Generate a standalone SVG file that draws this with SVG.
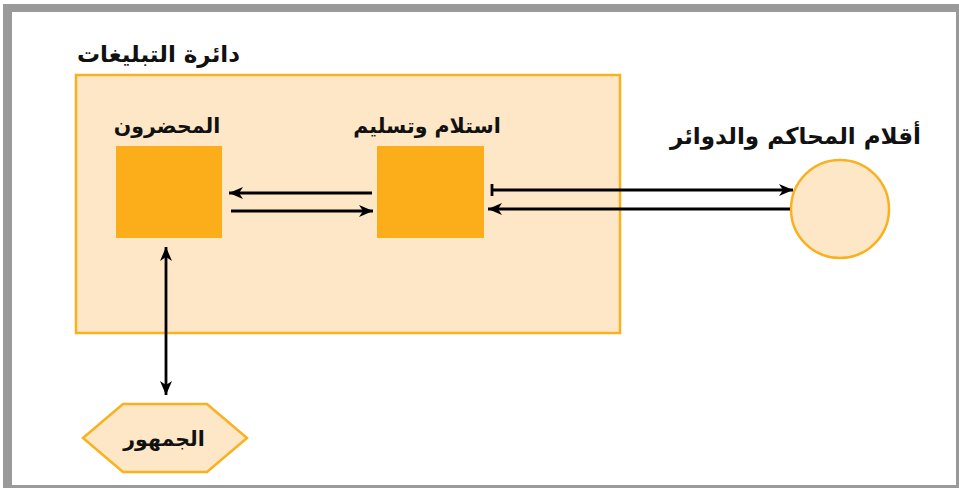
<svg xmlns="http://www.w3.org/2000/svg" width="959" height="488" viewBox="0 0 959 488">
<style>
.t{font-family:"DejaVu Sans","Noto Sans",sans-serif;font-weight:bold;font-size:23px;fill:#111;direction:rtl}
.s{font-size:20.5px}
.sq{fill:#FBAE1A}
.ln{stroke:#000;stroke-width:2.8;fill:none}
.lt{fill:#FEE7C6;stroke:#F9B11F;stroke-width:2.5}
</style>
<defs>
<marker id="ah" viewBox="0 0 14 12" refX="14" refY="6" markerWidth="14" markerHeight="12" orient="auto-start-reverse" markerUnits="userSpaceOnUse">
<path d="M0,0 L14,6 L0,12 L4,6 z" fill="#000"/>
</marker>
</defs>
<rect x="0" y="0" width="959" height="488" fill="#fff"/>
<rect x="3" y="4" width="956" height="484" fill="#9a9a9a"/>
<rect x="12" y="12" width="944" height="473" fill="#fff"/>
<g id="dept">
<rect class="lt" x="76" y="75" width="544" height="258"/>
<text class="t" x="240" y="62" text-anchor="start">دائرة التبليغات</text>
</g>
<g id="bailiffs">
<rect class="sq" x="116" y="146" width="106" height="92"/>
<text class="t s" x="167" y="133" text-anchor="middle">المحضرون</text>
</g>
<g id="receive">
<rect class="sq" x="377" y="146" width="107" height="92"/>
<text class="t s" x="427" y="133" text-anchor="middle">استلام وتسليم</text>
</g>
<g id="courts">
<circle class="lt" cx="840" cy="209" r="49"/>
<text class="t" x="921" y="144" text-anchor="start">أقلام المحاكم والدوائر</text>
</g>
<g id="public">
<polygon class="lt" points="83,438 123,404 207,404 247,438 207,472 123,472"/>
<text class="t s" x="164" y="446" text-anchor="middle">الجمهور</text>
</g>
<g id="connectors">
<line class="ln" x1="372" y1="193" x2="229" y2="193" marker-end="url(#ah)"/>
<line class="ln" x1="231" y1="211" x2="373" y2="211" marker-end="url(#ah)"/>
<line class="ln" x1="492" y1="190" x2="793" y2="190" marker-end="url(#ah)"/>
<line class="ln" x1="492" y1="184" x2="492" y2="196" stroke-width="2"/>
<line class="ln" x1="790" y1="209" x2="488" y2="209" marker-end="url(#ah)"/>
<line class="ln" x1="166" y1="247" x2="166" y2="395" marker-start="url(#ah)" marker-end="url(#ah)"/>
</g>
</svg>
